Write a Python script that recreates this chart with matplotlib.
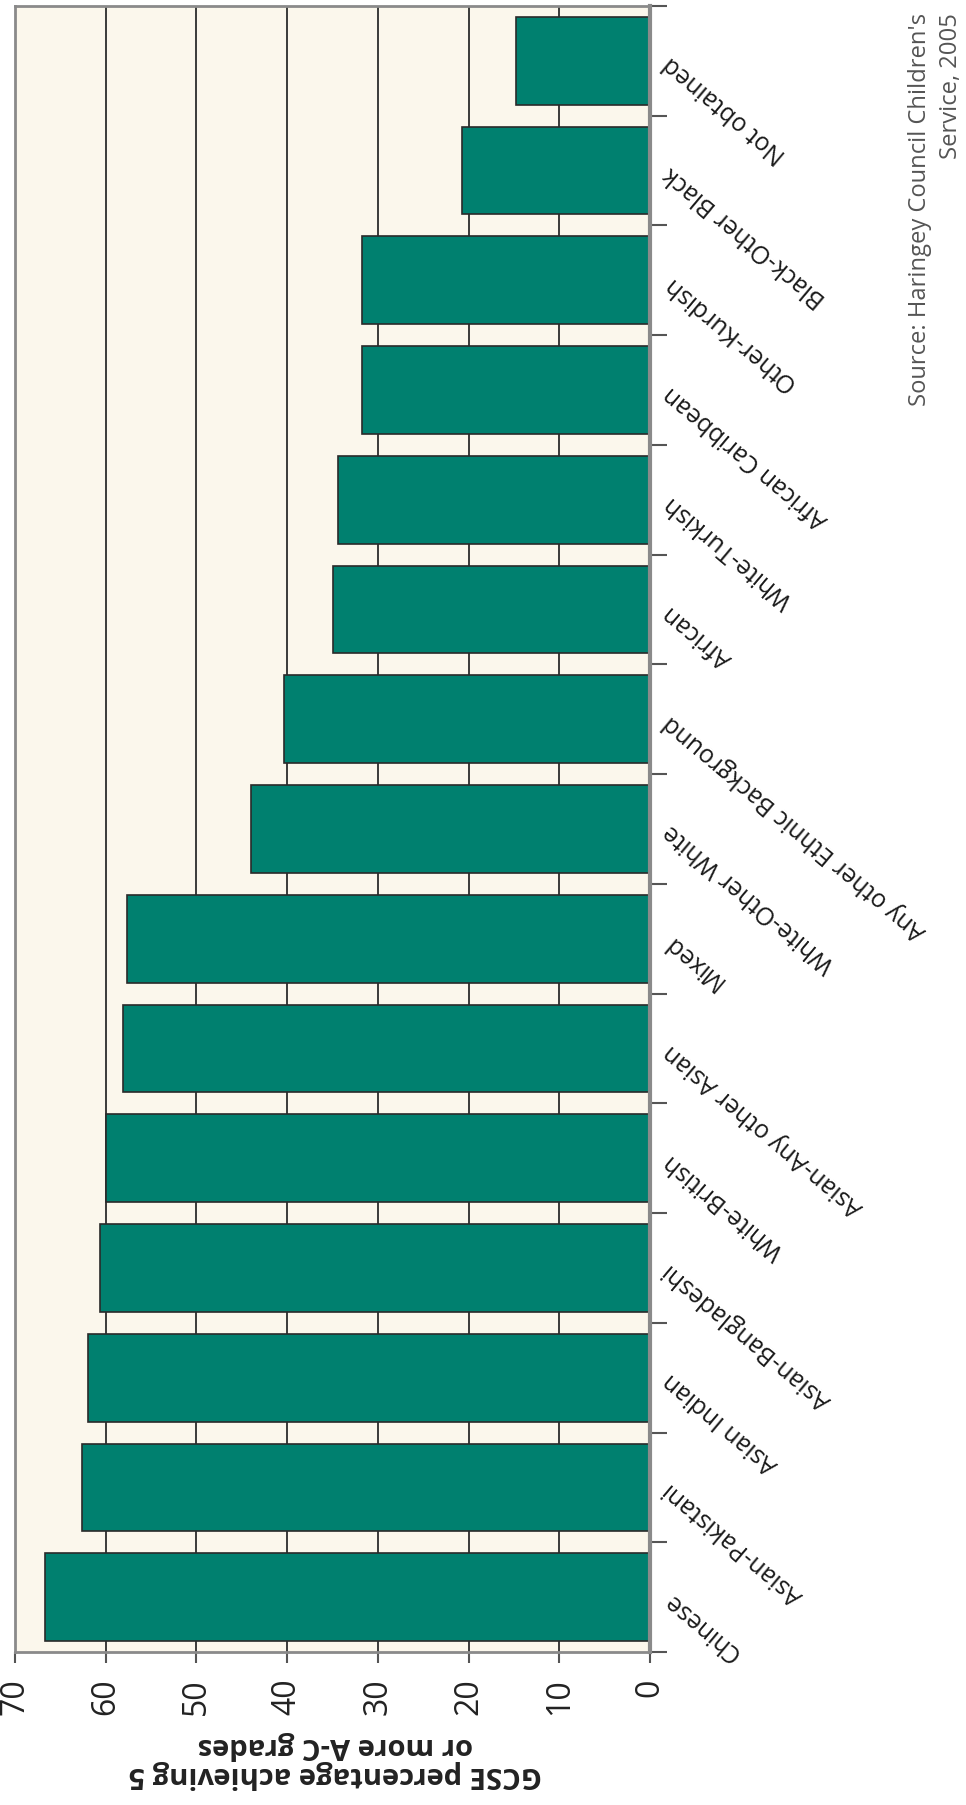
import matplotlib

matplotlib.use("Agg")

import matplotlib.pyplot as plt
import numpy as np

# categories from the first bar (bottom of the picture) to the last (top)
categories = [
    "Chinese",
    "Asian-Pakistani",
    "Asian Indian",
    "Asian-Bangladeshi",
    "White-British",
    "Asian-Any other Asian",
    "Mixed",
    "White-Other White",
    "Any other Ethnic Background",
    "African",
    "White-Turkish",
    "African Caribbean",
    "Other-Kurdish",
    "Black-Other Black",
    "Not obtained",
]
gcse_pct = [66.7, 62.6, 62.0, 60.6, 60.0, 58.1, 57.6, 44.0, 40.3, 34.9, 34.4, 31.8, 31.7, 20.7, 14.8]
value_ticks = [0, 10, 20, 30, 40, 50, 60, 70]

BAR_COLOR = "#00806f"
BG_COLOR = "#fbf7ec"
SPINE_COLOR = "#8a8a8a"

plt.rcParams["font.family"] = ["Open Sans", "DejaVu Sans"]

fig = plt.figure(figsize=(9.66, 18.05), dpi=100)
ax = fig.add_axes([15 / 966, 153 / 1805, 635 / 966, 1646 / 1805])
ax.set_facecolor(BG_COLOR)
renderer = fig.canvas.get_renderer()


def fit_size(text, target_px, along="width"):
    # scale a text's font so that its box spans target_px pixels
    for _ in range(3):
        bb = text.get_window_extent(renderer)
        size = bb.width if along == "width" else bb.height
        text.set_fontsize(text.get_fontsize() * target_px / size)
    return text.get_fontsize()


y_pos = np.arange(len(categories))
ax.barh(y_pos, gcse_pct, height=0.8, color=BAR_COLOR, edgecolor="#2a2a2a", linewidth=1.2, zorder=3)

ax.set_xlim(70, 0)
ax.set_ylim(-0.5, len(categories) - 0.5)

# value axis (bottom)
ax.set_xticks(value_ticks)
ax.set_xticklabels([str(v) for v in value_ticks], rotation=90, fontsize=23, color="#222222")
ax.tick_params(axis="x", direction="out", length=8, width=1.5, color="#555555", pad=11)
for v in value_ticks[1:-1]:
    ax.axvline(v, color="#3a3a3a", linewidth=1.4, zorder=1)

# category labels sized from the longest one
probe = fig.text(0, 0, "Any other Ethnic Background", fontsize=18)
cat_size = fit_size(probe, 335)
probe.remove()

# category axis (right)
ax.yaxis.tick_right()
ax.set_yticks(y_pos)
ax.set_yticklabels(categories, fontsize=cat_size, color="#1a1a1a")
ax.set_yticks(np.arange(-0.5, len(categories)), minor=True)
ax.tick_params(axis="y", which="major", length=0, pad=12)
ax.tick_params(axis="y", which="minor", direction="out", length=12, width=1.5, color="#555555")
plt.setp(ax.get_yticklabels(), rotation=140, ha="right", va="center", rotation_mode="anchor")

for side in ["left", "top", "bottom"]:
    ax.spines[side].set_color(SPINE_COLOR)
    ax.spines[side].set_linewidth(2)
ax.spines["right"].set_color(SPINE_COLOR)
ax.spines["right"].set_linewidth(3)
for s in ax.spines.values():
    s.set_zorder(4)

xlab = ax.set_xlabel("GCSE percentage achieving 5\nor more A-C grades", rotation=180,
                     fontsize=22, fontweight="bold", color="#222222", linespacing=1.0)
fit_size(xlab, 415)
ax.xaxis.set_label_coords(0.505, -(1731 - 1652) / 1646)

src1 = fig.text(920 / 966, (1805 - 13) / 1805, "Source: Haringey Council Children's", rotation=90,
                ha="center", va="top", fontsize=16.5, color="#555555")
src_size = fit_size(src1, 390, along="height")
fig.text(951 / 966, (1805 - 13) / 1805, "Service, 2005", rotation=90,
         ha="center", va="top", fontsize=src_size, color="#555555")

fig.savefig("out.png", dpi=100, facecolor="white")
